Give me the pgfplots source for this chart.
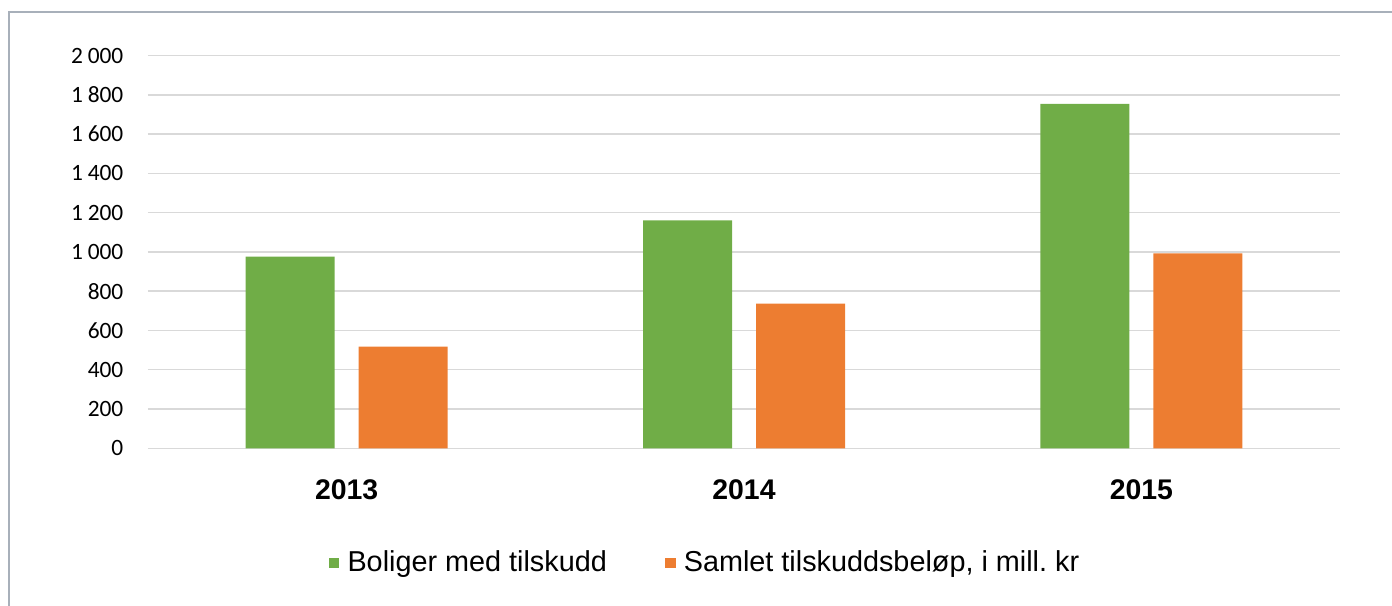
\documentclass[border=0pt]{standalone}
\usepackage{fontspec}
\setmainfont{Liberation Sans}
\newfontfamily\calib{Carlito}
\usepackage{pgfplots}
\pgfplotsset{compat=1.18}
\definecolor{grn}{RGB}{112,173,71}
\definecolor{org}{RGB}{237,125,49}
\definecolor{grd}{RGB}{217,217,217}
\definecolor{frm}{RGB}{168,176,186}
\frenchspacing
\begin{document}
\begin{tikzpicture}
% picture box: 1 px of the reference = 0.5pt
\path[use as bounding box] (-74pt,-78.35pt) rectangle (622pt,224.15pt);
\draw[frm, line width=1pt] (-69.5pt,-90pt) -- (-69.5pt,218.15pt) -- (640pt,218.15pt);
\begin{axis}[
 scale only axis, width=596pt, height=196.4pt,
 ybar=12pt, bar width=44.5pt,
 xmin=-0.5, xmax=2.5, ymin=0, ymax=2000,
 xtick={0,1,2}, xticklabels={2013,2014,2015},
 ytick={0,200,...,2000},
 axis line style={draw=none}, major tick length=0pt,
 ymajorgrids, major grid style={draw=grd, line width=0.75pt},
 /pgf/number format/assume math mode=true,
 /pgf/number format/1000 sep={\hspace{0.2em}},
 yticklabel style={font=\calib\fontsize{11.7}{14}\selectfont, xshift=-8.8pt},
 xticklabel style={font=\bfseries\fontsize{14.2}{17}\selectfont, yshift=-12pt},
 legend style={at={(axis description cs:0.468,-0.292)}, anchor=center, draw=none,
   font=\fontsize{14.4}{17}\selectfont,
   /tikz/every even column/.append style={column sep=27pt}},
 legend columns=2,
 legend image code/.code={\fill[#1] (0pt,-2.7pt) rectangle (5.4pt,2.7pt); \path (7.5pt,0pt);},
]
\addplot[fill=grn, draw=none] coordinates {(0,976) (1,1160) (2,1754)};
\addplot[fill=org, draw=none] coordinates {(0,518) (1,736) (2,993)};
\legend{Boliger med tilskudd, Samlet tilskuddsbeløp{,} i mill. kr}
\end{axis}
\end{tikzpicture}
\end{document}
